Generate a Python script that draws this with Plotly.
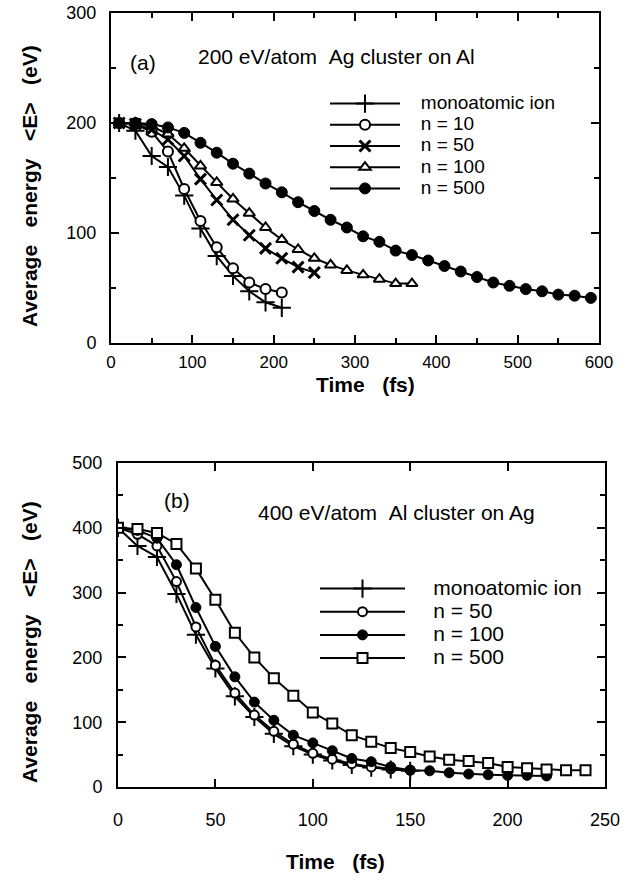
import plotly.graph_objects as go

# ---------------- Panel (a): 200 eV/atom Ag cluster on Al ----------------
a_mono_t = [10, 30, 50, 70, 90, 110, 130, 150, 170, 190, 210]
a_mono_e = [200, 193, 170, 160, 134, 104, 79, 61, 47, 37, 32]

a_n10_t = [10, 30, 50, 70, 90, 110, 130, 150, 170, 190, 210]
a_n10_e = [200, 199, 192, 174, 140, 111, 87, 68, 55, 49, 46]

a_n50_t = [10, 30, 50, 70, 90, 110, 130, 150, 170, 190, 210, 230, 250]
a_n50_e = [200, 199, 194, 185, 170, 149, 130, 112, 98, 86, 77, 69, 64]

a_n100_t = [10, 30, 50, 70, 90, 110, 130, 150, 170, 190, 210, 230, 250,
            270, 290, 310, 330, 350, 370]
a_n100_e = [200, 200, 197, 190, 177, 161, 146, 131, 118, 105, 94, 85, 77,
            71, 66, 62, 58, 54, 54]

a_n500_t = [10, 30, 50, 70, 90, 110, 130, 150, 170, 190, 210, 230, 250, 270,
            290, 310, 330, 350, 370, 390, 410, 430, 450, 470, 490, 510, 530,
            550, 570, 590]
a_n500_e = [200, 200, 199, 196, 191, 182, 173, 163, 154, 145, 137, 128, 120,
            112, 105, 97, 92, 84, 80, 75, 70, 65, 60, 55, 52, 49, 47, 44, 43, 41]

# ---------------- Panel (b): 400 eV/atom Al cluster on Ag ----------------
b_mono_t = [0, 10, 20, 30, 40, 50, 60, 70, 80, 90, 100, 110, 120, 130, 140, 150]
b_mono_e = [400, 372, 355, 298, 235, 183, 140, 108, 82, 63, 50, 41, 34, 30, 27, 25]

b_n50_t = [0, 10, 20, 30, 40, 50, 60, 70, 80, 90, 100, 110, 120, 130, 140, 150]
b_n50_e = [400, 390, 372, 317, 247, 188, 145, 111, 86, 66, 52, 43, 36, 31, 28, 26]

b_n100_t = [0, 10, 20, 30, 40, 50, 60, 70, 80, 90, 100, 110, 120, 130, 140,
            150, 160, 170, 180, 190, 200, 210, 220]
b_n100_e = [400, 396, 384, 343, 277, 217, 170, 131, 103, 80, 68, 56, 44, 39,
            31, 26, 25, 22, 20, 19, 18, 18, 17]

b_n500_t = [0, 10, 20, 30, 40, 50, 60, 70, 80, 90, 100, 110, 120, 130, 140,
            150, 160, 170, 180, 190, 200, 210, 220, 230, 240]
b_n500_e = [400, 398, 392, 375, 337, 289, 238, 200, 168, 141, 115, 98, 80, 70,
            60, 54, 47, 42, 40, 37, 31, 29, 27, 26, 26]

LW = 2
FONT = "Liberation Sans, Arial, Helvetica, sans-serif"
NB = "\u00a0"

fig = go.Figure()


def add(t, e, name, marker, xa, ya, legend, size, pad):
    label = f"<span style='font-size:{size}px'>{NB * pad}{name}</span>"
    fig.add_trace(go.Scatter(
        x=t, y=e, name=label, mode="lines+markers",
        line=dict(color="black", width=LW),
        marker=marker, xaxis=xa, yaxis=ya, legend=legend,
    ))


cross = dict(symbol="cross-thin", size=13, color="black", line=dict(color="black", width=2))
xmark = dict(symbol="x-thin", size=11, color="black", line=dict(color="black", width=3))
ocirc = dict(symbol="circle", size=10, color="white", line=dict(color="black", width=2))
tri = dict(symbol="triangle-up", size=10, color="white", line=dict(color="black", width=2))
fcirc = dict(symbol="circle", size=11, color="black", line=dict(color="black", width=1))
ocirc_b = dict(symbol="circle", size=9, color="white", line=dict(color="black", width=2))
fcirc_b = dict(symbol="circle", size=10, color="black", line=dict(color="black", width=1))
sq = dict(symbol="square", size=10, color="white", line=dict(color="black", width=2))

add(a_mono_t, a_mono_e, "monoatomic ion", cross, "x", "y", "legend", 19, 3)
add(a_n10_t, a_n10_e, "n = 10", ocirc, "x", "y", "legend", 19, 3)
add(a_n50_t, a_n50_e, "n = 50", xmark, "x", "y", "legend", 19, 3)
add(a_n100_t, a_n100_e, "n = 100", tri, "x", "y", "legend", 19, 3)
add(a_n500_t, a_n500_e, "n = 500", fcirc, "x", "y", "legend", 19, 3)

add(b_mono_t, b_mono_e, "monoatomic ion", cross, "x2", "y2", "legend2", 21, 4)
add(b_n50_t, b_n50_e, "n = 50", ocirc_b, "x2", "y2", "legend2", 21, 4)
add(b_n100_t, b_n100_e, "n = 100", fcirc_b, "x2", "y2", "legend2", 21, 4)
add(b_n500_t, b_n500_e, "n = 500", sq, "x2", "y2", "legend2", 21, 4)

# The page body margin is removed after plotting (post_script), so the
# figure fills the whole window; positions are given in window pixels.
W, H = 628, 882


def px_x(p):
    return p / W


def px_y(p):
    return 1 - p / H


axis_common = dict(
    showline=True, linecolor="black", linewidth=LW, mirror="ticks",
    ticks="inside", ticklen=8, tickwidth=LW, tickcolor="black",
    showgrid=False, zeroline=False, automargin=False,
    ticklabeloverflow="allow",
    tickfont=dict(family=FONT, size=18, color="black"),
)
minor = dict(ticks="inside", ticklen=5, tickwidth=LW, tickcolor="black")

fig.update_layout(
    template="none",
    width=W, height=H,
    margin=dict(l=0, r=0, t=0, b=0, pad=0, autoexpand=False),
    paper_bgcolor="white", plot_bgcolor="white",
    font=dict(family=FONT, color="black"),
    xaxis=dict(axis_common, domain=[px_x(111), px_x(599)], range=[0, 600],
               dtick=100, anchor="y", ticklabelstandoff=3,
               tickfont=dict(family=FONT, size=17, color="black"),
               minor=dict(minor, dtick=50)),
    yaxis=dict(axis_common, domain=[px_y(343), px_y(13)], range=[0, 300],
               dtick=100, anchor="x", ticklabelstandoff=9,
               minor=dict(minor, dtick=50)),
    xaxis2=dict(axis_common, domain=[px_x(118), px_x(605)], range=[0, 250],
                dtick=50, anchor="y2", ticklabelstandoff=15),
    yaxis2=dict(axis_common, domain=[px_y(787), px_y(463)], range=[0, 500],
                dtick=100, anchor="x2", ticklabelstandoff=10,
                minor=dict(minor, dtick=50)),
    legend=dict(x=px_x(325), y=px_y(88), xanchor="left", yanchor="top",
                bgcolor="rgba(0,0,0,0)", borderwidth=0, itemwidth=70,
                font=dict(family=FONT, size=14, color="black"), tracegroupgap=0),
    legend2=dict(x=px_x(315), y=px_y(572), xanchor="left", yanchor="top",
                 bgcolor="rgba(0,0,0,0)", borderwidth=0, itemwidth=85,
                 font=dict(family=FONT, size=15.5, color="black"), tracegroupgap=0),
    showlegend=True,
)

title_font = dict(family=FONT, size=21, color="black")
ylab = f"<b>Average{NB * 3}energy{NB * 3}&lt;E&gt;{NB * 3}(eV)</b>"
xlab = f"<b>Time{NB * 3}(fs)</b>"
text_font = dict(family=FONT, size=21, color="black")

annotations = [
    dict(text=ylab, x=px_x(29), y=px_y(186), textangle=-90, font=title_font),
    dict(text=ylab, x=px_x(29), y=px_y(642), textangle=-90, font=title_font),
    dict(text=xlab, x=px_x(365), y=px_y(384), font=title_font),
    dict(text=xlab, x=px_x(335), y=px_y(861), font=title_font),
    dict(text="(a)", x=px_x(143), y=px_y(63), font=text_font),
    dict(text=f"200 eV/atom{NB}{NB}Ag cluster on Al", x=px_x(196), y=px_y(57), xanchor="left",
         font=text_font),
    dict(text="(b)", x=px_x(177), y=px_y(500), font=text_font),
    dict(text=f"400 eV/atom{NB}{NB}Al cluster on Ag", x=px_x(256), y=px_y(512), xanchor="left",
         font=text_font),
]
for a in annotations:
    a.setdefault("xanchor", "center")
    a.update(xref="paper", yref="paper", showarrow=False, yanchor="middle")
fig.update_layout(annotations=annotations)

fig.write_html(
    "out.html",
    config={"displayModeBar": False},
    post_script="document.body.style.margin='0px'; document.body.style.overflow='hidden';",
)
